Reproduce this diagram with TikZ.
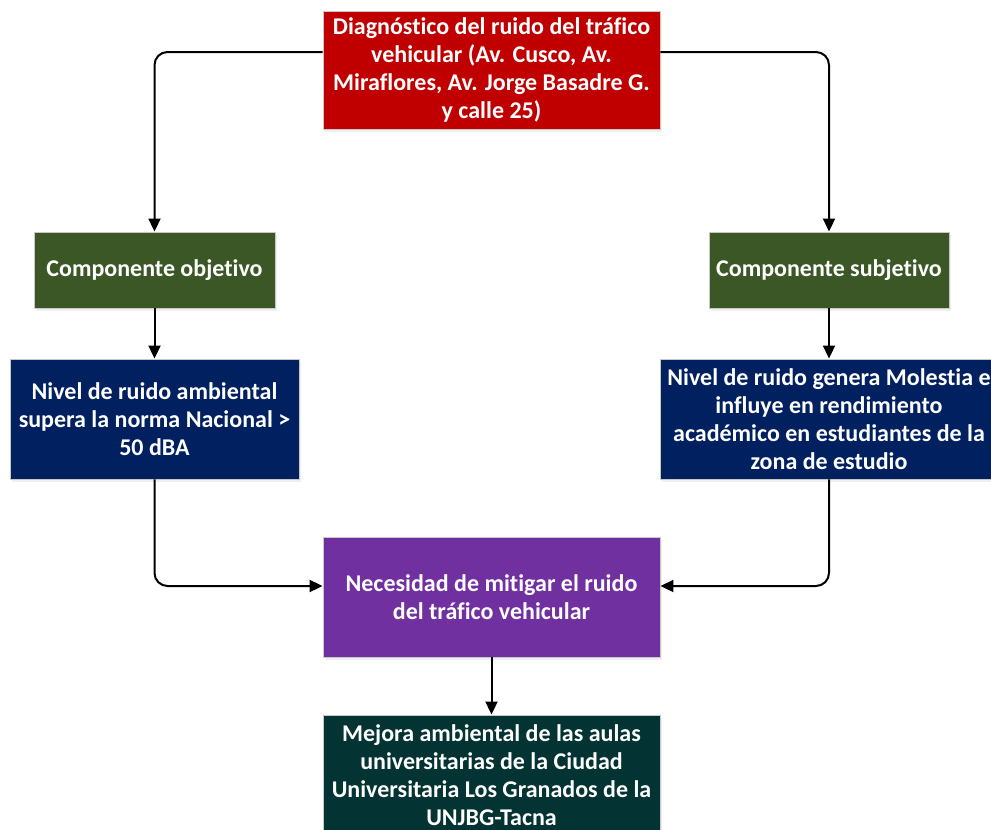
\documentclass[tikz,border=0pt]{standalone}
\usepackage{fontspec}
\setmainfont{Carlito}[Ligatures=NoCommon]
\usetikzlibrary{arrows.meta,shadows}
\definecolor{cred}{HTML}{C00000}
\definecolor{cgreen}{HTML}{3B5725}
\definecolor{cnavy}{HTML}{002060}
\definecolor{cpurple}{HTML}{7030A0}
\definecolor{cdark}{HTML}{033333}
\definecolor{cborder}{HTML}{C8C8C8}
\tikzset{
  box/.style={draw=cborder, line width=0.9pt, text=white, align=center,
    font=\bfseries\fontsize{24}{27.8}\selectfont, inner sep=0pt,
    drop shadow={opacity=0.12, shadow xshift=2pt, shadow yshift=-3pt}},
  arr/.style={line width=2pt, -{Triangle[length=13pt,width=12pt]}, rounded corners=13pt}
}
\begin{document}
\begin{tikzpicture}[x=1pt,y=-1pt]
\useasboundingbox (0,0) rectangle (991,830);
\clip (0,0) rectangle (991,830);
\node[box, fill=cred, minimum width=337pt, minimum height=118pt] (top) at (491.5,70)
  {Diagnóstico del ruido del tráfico\\vehicular (Av. Cusco, Av.\\Miraflores, Av. Jorge Basadre G.\\y calle 25)};
\node[box, fill=cgreen, minimum width=241pt, minimum height=76pt] (gl) at (154.5,270)
  {Componente objetivo};
\node[box, fill=cgreen, minimum width=240pt, minimum height=76pt] (gr) at (829,270)
  {Componente subjetivo};
\node[box, fill=cnavy, minimum width=289pt, minimum height=120pt] (nl) at (154.5,419)
  {Nivel de ruido ambiental\\supera la norma Nacional >\\50 dBA};
\node[box, fill=cnavy, minimum width=338pt, minimum height=120pt] (nr) at (829,419)
  {Nivel de ruido genera Molestia e\\influye en rendimiento\\académico en estudiantes de la\\zona de estudio};
\node[box, fill=cpurple, minimum width=337pt, minimum height=120pt] (pu) at (491.5,597)
  {Necesidad de mitigar el ruido\\del tráfico vehicular};
\node[box, fill=cdark, minimum width=337pt, minimum height=120pt] (bo) at (491.5,775)
  {Mejora ambiental de las aulas\\universitarias de la Ciudad\\Universitaria Los Granados de la\\UNJBG-Tacna};
\draw[arr] ([yshift=18pt]top.west) -| (gl.north);
\draw[arr] ([yshift=18pt]top.east) -| (gr.north);
\draw[arr] (gl.south) -- (nl.north);
\draw[arr] (gr.south) -- (nr.north);
\draw[arr] (nl.south) |- ([yshift=11pt]pu.west);
\draw[arr] (nr.south) |- ([yshift=11pt]pu.east);
\draw[arr] (pu.south) -- (bo.north);
\end{tikzpicture}
\end{document}
